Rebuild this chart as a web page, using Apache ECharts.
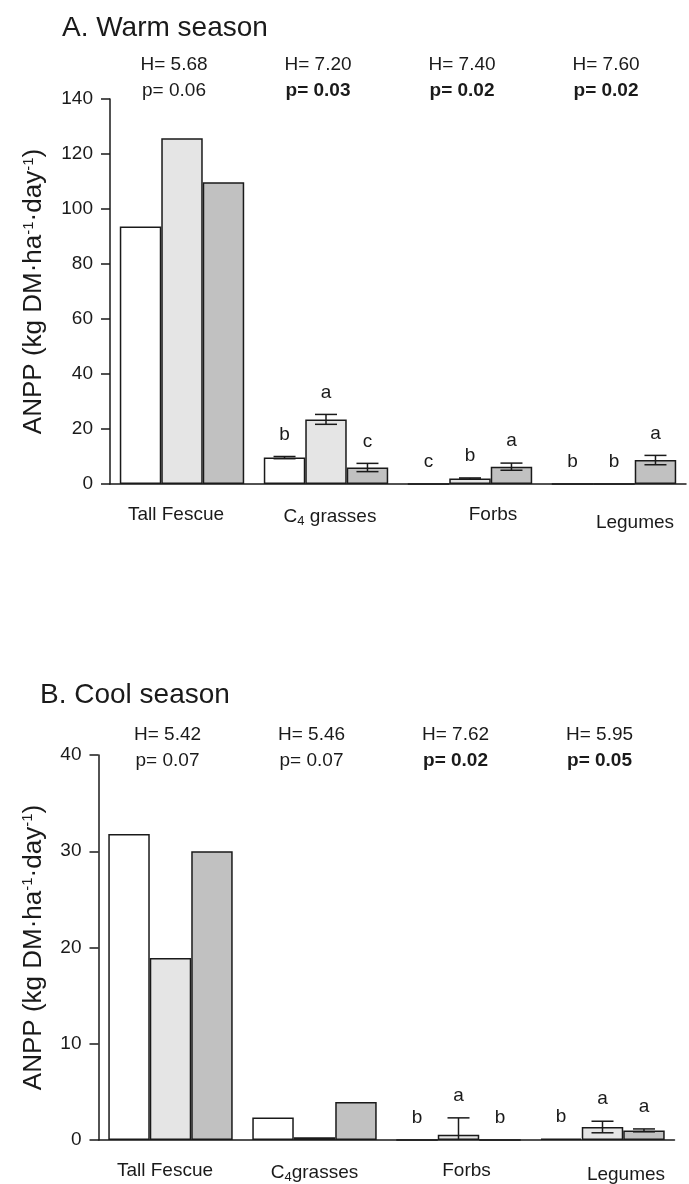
<!DOCTYPE html>
<html>
<head>
<meta charset="utf-8">
<title>ANPP by functional group</title>
<script src="https://cdn.jsdelivr.net/npm/echarts@6/dist/echarts.min.js"></script>
<style>
  html, body { margin: 0; padding: 0; background: #fff; }
  #chart { width: 689px; height: 1184px; }
</style>
</head>
<body>
<div id="chart"></div>
<script>
const categories = ["Tall Fescue", "C4 grasses", "Forbs", "Legumes"];
const treatments = ["Treatment 1", "Treatment 2", "Treatment 3"];

// A. Warm season
const warmMeans1 = [93.6, 9.6, 0, 0];
const warmMeans2 = [125.7, 23.5, 2.0, 0];
const warmMeans3 = [109.7, 6.0, 6.3, 8.7];
const warmErr1 = [0, 0.4, 0, 0];
const warmErr2 = [0, 1.8, 0.2, 0];
const warmErr3 = [0, 1.5, 1.3, 1.7];
const warmLetters1 = ["", "b", "c", "b"];
const warmLetters2 = ["", "a", "b", "b"];
const warmLetters3 = ["", "c", "a", "a"];
const warmH = [5.68, 7.20, 7.40, 7.60];
const warmP = [0.06, 0.03, 0.02, 0.02];
const warmTicks = [0, 20, 40, 60, 80, 100, 120, 140];

// B. Cool season
const coolMeans1 = [31.8, 2.35, 0, 0.15];
const coolMeans2 = [18.9, 0.28, 0.55, 1.35];
const coolMeans3 = [30.0, 3.95, 0, 1.0];
const coolErr1 = [0, 0, 0, 0];
const coolErr2 = [0, 0, 1.75, 0.6];
const coolErr3 = [0, 0, 0, 0.15];
const coolLetters1 = ["", "", "b", "b"];
const coolLetters2 = ["", "", "a", "a"];
const coolLetters3 = ["", "", "b", "a"];
const coolH = [5.42, 5.46, 7.62, 5.95];
const coolP = [0.07, 0.07, 0.02, 0.05];
const coolTicks = [0, 10, 20, 30, 40];

const FONT = "'Liberation Sans', Arial, sans-serif";
const INK = "#1a1a1a";
const BAR_FRAC = 0.288;
const fills = ["#ffffff", "#e5e5e5", "#c1c1c1"];

const panels = [
  {
    title: "A. Warm season",
    means: [warmMeans1, warmMeans2, warmMeans3],
    errs: [warmErr1, warmErr2, warmErr3],
    letters: [warmLetters1, warmLetters2, warmLetters3],
    H: warmH, P: warmP, ticks: warmTicks, c4gap: " ",
    grid: { left: 110, right: 3, top: 99, height: 385 },
    titlePos: { left: 57, top: 9 },
    note: { dx: -8, hy: -34, py: -8 },
    nameGap: 63,
    labelPad: [[0, 12, 0, 0], [0, 0, 0, 8], [0, 0, 0, 46], [8, 0, 0, 42]]
  },
  {
    title: "B. Cool season",
    means: [coolMeans1, coolMeans2, coolMeans3],
    errs: [coolErr1, coolErr2, coolErr3],
    letters: [coolLetters1, coolLetters2, coolLetters3],
    H: coolH, P: coolP, ticks: coolTicks, c4gap: "",
    grid: { left: 98.5, right: 14.5, top: 755, height: 386 },
    titlePos: { left: 35, top: 676 },
    note: { dx: -3, hy: -20, py: 6 },
    nameGap: 52,
    labelPad: [[0, 11, 0, 0], [0, 0, 0, 0], [0, 0, 0, 16], [4, 0, 0, 47]]
  }
];

// error bars and significance letters, placed on the bars of one panel
function renderMarks(letters) {
  return function (params, api) {
    const i = api.value(0);
    const mean = api.value(1);
    const err = api.value(2);
    const k = api.value(3);
    const bw = api.size([1, 0])[0] * BAR_FRAC;
    const cx = api.coord([i, 0])[0] + (k - 1) * bw;
    const children = [];
    let topY = api.coord([i, mean])[1];
    if (err > 0) {
      const lo = Math.max(mean - err, 0);
      const yHi = api.coord([i, mean + err])[1];
      const yLo = api.coord([i, lo])[1];
      const line = { stroke: INK, lineWidth: 1.5 };
      children.push({ type: "line", shape: { x1: cx, y1: yHi, x2: cx, y2: yLo }, style: line });
      children.push({ type: "line", shape: { x1: cx - 11, y1: yHi, x2: cx + 11, y2: yHi }, style: line });
      if (lo > 0) {
        children.push({ type: "line", shape: { x1: cx - 11, y1: yLo, x2: cx + 11, y2: yLo }, style: line });
      }
      topY = yHi;
    }
    const letter = letters[k][i];
    if (letter) {
      children.push({
        type: "text",
        style: {
          x: cx, y: topY - 22, text: letter, align: "center", verticalAlign: "middle",
          fontSize: 19, fontFamily: FONT, fill: INK
        }
      });
    }
    return { type: "group", children: children };
  };
}

// H and p values printed above each group
function renderNotes(p) {
  return function (params, api) {
    const i = api.value(0);
    const x = api.coord([i, 0])[0] + p.note.dx;
    const top = api.coord([i, p.ticks[p.ticks.length - 1]])[1];
    const pv = p.P[i];
    return {
      type: "group",
      children: [
        {
          type: "text",
          style: {
            x: x, y: top + p.note.hy, text: "H= " + p.H[i].toFixed(2),
            align: "center", verticalAlign: "middle",
            fontSize: 19, fontFamily: FONT, fill: INK
          }
        },
        {
          type: "text",
          style: {
            x: x, y: top + p.note.py, text: "p= " + pv.toFixed(2),
            align: "center", verticalAlign: "middle",
            fontSize: 19, fontFamily: FONT, fontWeight: pv <= 0.05 ? "bold" : "normal", fill: INK
          }
        }
      ]
    };
  };
}

const option = {
  animation: false,
  backgroundColor: "#fff",
  textStyle: { fontFamily: FONT },
  title: [],
  grid: [],
  xAxis: [],
  yAxis: [],
  series: []
};

panels.forEach(function (p, g) {
  option.title.push({
    text: p.title,
    left: p.titlePos.left,
    top: p.titlePos.top,
    textStyle: { fontFamily: FONT, fontSize: 28, fontWeight: "normal", color: INK }
  });
  option.grid.push(p.grid);

  const rich = { sub: { fontSize: 13, padding: [10, 0, 0, 0] } };
  p.labelPad.forEach(function (pad, i) {
    rich["L" + i] = { padding: pad };
  });

  option.xAxis.push({
    type: "category",
    gridIndex: g,
    data: categories,
    axisLine: { lineStyle: { color: INK, width: 1.5 } },
    axisTick: { show: false },
    axisLabel: {
      interval: 0,
      margin: 21,
      fontSize: 19,
      color: INK,
      rich: rich,
      formatter: function (value, index) {
        if (value === "C4 grasses") {
          return "{L" + index + "|C}{sub|4}{g|" + p.c4gap + "grasses}";
        }
        return "{L" + index + "|" + value + "}";
      }
    }
  });

  option.yAxis.push({
    type: "value",
    gridIndex: g,
    min: p.ticks[0],
    max: p.ticks[p.ticks.length - 1],
    interval: p.ticks[1] - p.ticks[0],
    name: "ANPP (kg DM·ha{sup|-1}·day{sup|-1})",
    nameLocation: "middle",
    nameRotate: 90,
    nameGap: p.nameGap,
    nameTextStyle: {
      fontSize: 26,
      color: INK,
      rich: { sup: { fontSize: 15, padding: [0, 0, 11, 0] } }
    },
    axisLine: { show: true, lineStyle: { color: INK, width: 1.5 } },
    axisTick: { show: true, length: 9, lineStyle: { color: INK, width: 1.5 } },
    axisLabel: { margin: 17, fontSize: 19, color: INK },
    splitLine: { show: false }
  });

  p.means.forEach(function (m, k) {
    option.series.push({
      type: "bar",
      name: treatments[k],
      xAxisIndex: g,
      yAxisIndex: g,
      data: m,
      barWidth: (BAR_FRAC * 100) + "%",
      barGap: "0%",
      itemStyle: { color: fills[k], borderColor: INK, borderWidth: 1.5 }
    });
  });

  const marks = [];
  p.means.forEach(function (m, k) {
    m.forEach(function (v, i) {
      marks.push([i, v, p.errs[k][i], k]);
    });
  });
  option.series.push({
    type: "custom",
    xAxisIndex: g,
    yAxisIndex: g,
    data: marks,
    z: 5,
    clip: false,
    renderItem: renderMarks(p.letters)
  });

  option.series.push({
    type: "custom",
    xAxisIndex: g,
    yAxisIndex: g,
    data: categories.map(function (c, i) { return [i, 0]; }),
    z: 5,
    clip: false,
    renderItem: renderNotes(p)
  });
});

const chart = echarts.init(document.getElementById("chart"));
chart.setOption(option);
window.addEventListener("resize", function () {
  chart.resize();
});
</script>
</body>
</html>
